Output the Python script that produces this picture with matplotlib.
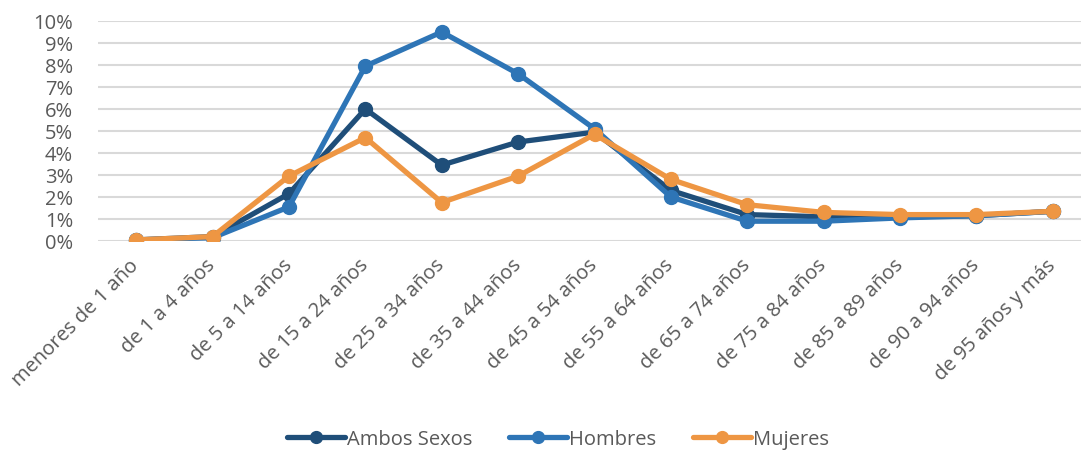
import matplotlib
matplotlib.use('Agg')
import matplotlib.pyplot as plt
import matplotlib.ticker as ticker

plt.rcParams['font.family'] = ['Open Sans', 'DejaVu Sans']

# age groups
categories = ['menores de 1 año', 'de 1 a 4 años', 'de 5 a 14 años', 'de 15 a 24 años',
              'de 25 a 34 años', 'de 35 a 44 años', 'de 45 a 54 años', 'de 55 a 64 años',
              'de 65 a 74 años', 'de 75 a 84 años', 'de 85 a 89 años', 'de 90 a 94 años',
              'de 95 años y más']

# values in percent
ambos = [0.05, 0.2, 2.15, 6.0, 3.45, 4.5, 4.95, 2.3, 1.2, 1.1, 1.1, 1.15, 1.35]
hombres = [0.05, 0.15, 1.55, 7.95, 9.5, 7.6, 5.1, 2.0, 0.9, 0.9, 1.05, 1.15, 1.35]
mujeres = [0.05, 0.2, 2.95, 4.7, 1.75, 2.95, 4.85, 2.8, 1.65, 1.3, 1.2, 1.2, 1.35]

yticks = list(range(0, 11))

W, H = 1081, 452
fig = plt.figure(figsize=(W / 100, H / 100), dpi=100)
# plot area in pixels: left 98, top 22, bottom 242, width 993 (runs past the right edge)
ax = fig.add_axes([98 / W, (H - 242) / H, 993 / W, 220 / H])

x = list(range(len(categories)))
series = [('Ambos Sexos', ambos, '#1F4E79'),
          ('Hombres', hombres, '#2E75B6'),
          ('Mujeres', mujeres, '#EE9643')]
for i, (name, vals, col) in enumerate(series):
  ax.plot(x, vals, color=col, lw=3.8, marker='o', ms=10, label=name,
          zorder=3 + i, solid_capstyle='round', solid_joinstyle='round')

ax.set_xlim(-0.5, len(categories) - 0.5)
ax.set_ylim(0, 10)
ax.set_yticks(yticks)
ax.yaxis.set_major_formatter(ticker.FuncFormatter(lambda v, p: '%d%%' % v))
ax.grid(axis='y', color='#D9D9D9', lw=1.5, zorder=0)
ax.set_axisbelow(True)
for s in ax.spines.values():
  s.set_visible(False)

ax.set_xticks(x)
ax.set_xticklabels(categories, rotation=45, ha='right', va='center',
                   rotation_mode='anchor')
ax.tick_params(axis='both', length=0, colors='#595959')
ax.tick_params(axis='x', pad=15, labelsize=14.5)
ax.tick_params(axis='y', pad=18, labelsize=14.5)

leg = fig.legend(loc='center', bbox_to_anchor=(558 / W, (H - 440) / H), ncol=3,
                 frameon=False, fontsize=14.5, handlelength=2.9, columnspacing=1.8,
                 handletextpad=0.1, markerscale=0.85)
for t in leg.get_texts():
  t.set_color('#595959')

fig.savefig('out.png', dpi=100)
